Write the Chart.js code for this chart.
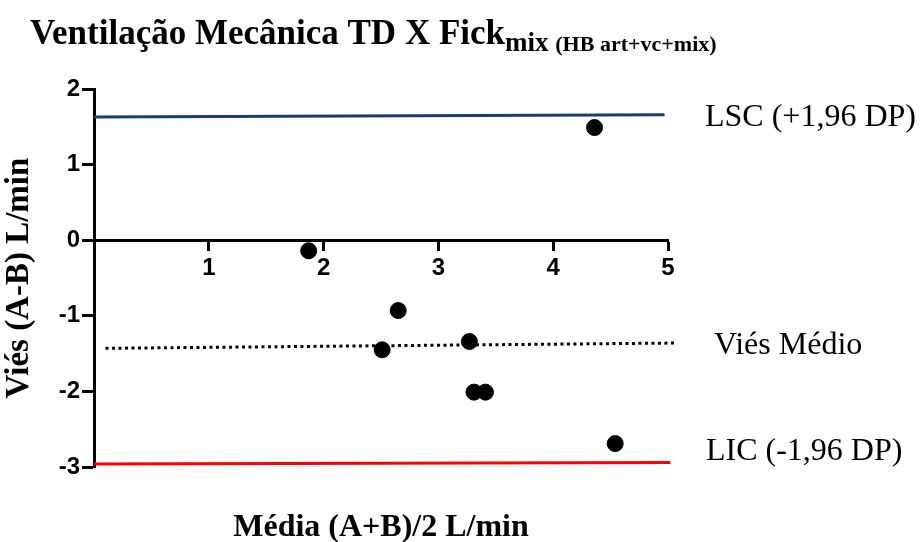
<!DOCTYPE html>
<html>
<head>
<meta charset="utf-8">
<script src="https://cdn.jsdelivr.net/npm/chart.js@4.4.0/dist/chart.umd.min.js"></script>
<style>
  html, body { margin: 0; padding: 0; background: #fff; }
</style>
</head>
<body>
<canvas id="blandAltman" width="920" height="542"></canvas>
<script>
// Bland-Altman: mean (A+B)/2 vs difference (A-B), L/min
const meanValues = [4.36, 1.87, 2.65, 2.51, 3.27, 3.31, 3.41, 4.54];
const diffValues = [1.49, -0.14, -0.93, -1.45, -1.34, -2.01, -2.01, -2.69];

const xTicks = [1, 2, 3, 4, 5];
const yTicks = [-3, -2, -1, 0, 1, 2];

// limit lines (a little tilted in the original scan)
const lscX = [0, 4.97];
const lscY = [1.63, 1.66];
const biasX = [0.1, 5.08];
const biasY = [-1.43, -1.36];
const licX = [0, 5.02];
const licY = [-2.96, -2.94];

const titleMain = 'Ventilação Mecânica TD X Fick';
const titleSub = 'mix';
const titleSub2 = '(HB art+vc+mix)';
const xTitle = 'Média (A+B)/2 L/min';
const yTitle = 'Viés (A-B) L/min';
const lineLabels = ['LSC (+1,96 DP)', 'Viés Médio', 'LIC (-1,96 DP)'];

function toPoints(xs, ys) {
    return xs.map((x, i) => ({ x: x, y: ys[i] }));
}

// title with subscript, x title and labels next to the lines
const textPlugin = {
    id: 'textPlugin',
    afterDraw(chart) {
        const { ctx, chartArea, scales } = chart;
        ctx.save();
        ctx.fillStyle = '#000';
        ctx.textAlign = 'left';
        ctx.textBaseline = 'alphabetic';

        ctx.font = 'bold 35px "Liberation Serif"';
        ctx.fillText(titleMain, 30, 44);
        let x = 30 + ctx.measureText(titleMain).width;
        ctx.font = 'bold 27px "Liberation Serif"';
        ctx.fillText(titleSub, x, 51);
        x += ctx.measureText(titleSub + ' ').width;
        ctx.font = 'bold 22px "Liberation Serif"';
        ctx.fillText(titleSub2, x, 51);

        ctx.textAlign = 'center';
        ctx.font = 'bold 32px "Liberation Serif"';
        ctx.fillText(xTitle, (chartArea.left + chartArea.right) / 2, 536);

        ctx.textAlign = 'left';
        ctx.textBaseline = 'middle';
        ctx.font = '32px "Liberation Serif"';
        const y = scales.y;
        ctx.fillText(lineLabels[0], chartArea.right + 37, y.getPixelForValue(lscY[1]) + 3);
        ctx.fillText(lineLabels[1], chartArea.right + 46, y.getPixelForValue(biasY[1]) + 3);
        ctx.fillText(lineLabels[2], chartArea.right + 38, y.getPixelForValue(licY[1]) - 11);
        ctx.restore();
    }
};

const tickFont = { family: 'Liberation Sans', weight: 'bold', size: 24 };

new Chart(document.getElementById('blandAltman'), {
    type: 'scatter',
    data: {
        datasets: [
            {
                data: toPoints(meanValues, diffValues),
                backgroundColor: '#000',
                borderColor: '#000',
                pointRadius: 8,
                pointHoverRadius: 8
            },
            {
                type: 'line',
                data: toPoints(lscX, lscY),
                borderColor: '#1b3a78',
                borderWidth: 3,
                pointRadius: 0,
                clip: false
            },
            {
                type: 'line',
                data: toPoints(biasX, biasY),
                borderColor: '#000',
                borderWidth: 3,
                borderDash: [3, 3.5],
                pointRadius: 0,
                clip: false
            },
            {
                type: 'line',
                data: toPoints(licX, licY),
                borderColor: '#ff0000',
                borderWidth: 3,
                pointRadius: 0,
                clip: false
            }
        ]
    },
    options: {
        responsive: false,
        animation: false,
        devicePixelRatio: 1,
        layout: { padding: { top: 89, right: 252, bottom: 75, left: 0 } },
        plugins: {
            legend: { display: false },
            tooltip: { enabled: false }
        },
        scales: {
            x: {
                type: 'linear',
                min: 0,
                max: 5,
                position: { y: 0 },
                afterBuildTicks: s => { s.ticks = xTicks.map(v => ({ value: v })); },
                grid: { drawOnChartArea: false, tickLength: 9, tickWidth: 3, tickColor: '#000' },
                border: { color: '#000', width: 3 },
                ticks: { color: '#000', font: tickFont, padding: 5, maxRotation: 0, autoSkip: false }
            },
            y: {
                type: 'linear',
                min: -3,
                max: 2,
                afterBuildTicks: s => { s.ticks = yTicks.map(v => ({ value: v })); },
                afterFit: s => { s.width = 94; },
                grid: { drawOnChartArea: false, tickLength: 12, tickWidth: 3, tickColor: '#000' },
                border: { color: '#000', width: 3 },
                ticks: { color: '#000', font: tickFont, padding: 2, autoSkip: false },
                title: {
                    display: true,
                    text: yTitle,
                    color: '#000',
                    font: { family: 'Liberation Serif', weight: 'bold', size: 33 },
                    padding: 0
                }
            }
        }
    },
    plugins: [textPlugin]
});
</script>
</body>
</html>
